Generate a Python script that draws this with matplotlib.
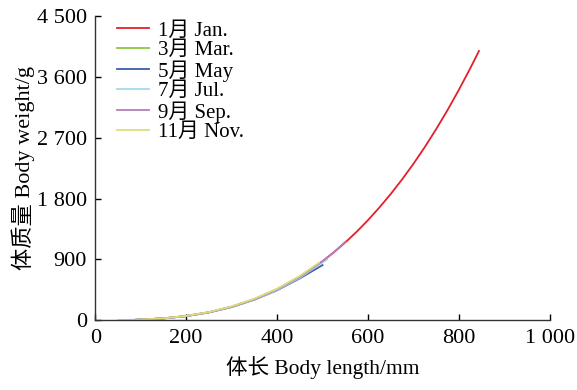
import matplotlib
matplotlib.use("Agg")
import matplotlib.pyplot as plt
from matplotlib.ticker import FuncFormatter

# values (body length mm, body weight g)
jan_len = [90, 150, 200, 250, 300, 350, 400, 425, 450, 475, 500, 525, 550, 575,
           600, 625, 650, 675, 700, 725, 750, 775, 800, 825, 844]
jan_wt = [6, 27, 61, 117, 198, 310, 457, 544, 643, 752, 872, 1005, 1150, 1308,
          1480, 1667, 1867, 2083, 2314, 2562, 2827, 3109, 3410, 3728, 3982]

mar_len = [90, 150, 200, 250, 300, 350, 400, 450, 485]
mar_wt = [6, 27, 62, 118, 199, 311, 456, 640, 800]

may_len = [85, 150, 200, 250, 300, 350, 400, 450, 500]
may_wt = [5, 26, 60, 115, 194, 302, 442, 618, 815]

jul_len = [50, 90, 150, 200, 250, 300, 350, 400, 450, 510]
jul_wt = [1, 6, 26, 60, 115, 195, 304, 447, 628, 900]

sep_len = [90, 150, 200, 250, 300, 350, 400, 450, 500, 525, 550]
sep_wt = [6, 27, 61, 117, 198, 310, 457, 643, 872, 1005, 1160]

nov_len = [90, 150, 200, 250, 300, 350, 400, 450, 492]
nov_wt = [6, 28, 63, 121, 204, 318, 466, 655, 850]

series = [
    ("1月 Jan.", jan_len, jan_wt, "#e3202a"),
    ("3月 Mar.", mar_len, mar_wt, "#8dc63f"),
    ("5月 May", may_len, may_wt, "#3a5fa8"),
    ("7月 Jul.", jul_len, jul_wt, "#a8d8ea"),
    ("9月 Sep.", sep_len, sep_wt, "#b77fb8"),
    ("11月 Nov.", nov_len, nov_wt, "#e0dc7a"),
]

x_ticks = [0, 200, 400, 600, 800, 1000]
y_ticks = [0, 900, 1800, 2700, 3600, 4500]

FONT = ["Liberation Serif", "Noto Sans CJK SC"]


def thousands(v, pos):
    return f"{int(v):,}".replace(",", " ")


def main():
    plt.rcParams["font.family"] = FONT
    fig = plt.figure(figsize=(5.77, 3.90), dpi=100)
    ax = fig.add_axes([0.165, 0.179, 0.788, 0.78])

    for label, xs, ys, color in series:
        ax.plot(xs, ys, color=color, lw=1.3, label=label)

    ax.set_xlim(0, 1000)
    ax.set_ylim(0, 4500)
    ax.set_xticks(x_ticks)
    ax.set_yticks(y_ticks)
    ax.xaxis.set_major_formatter(FuncFormatter(thousands))
    ax.yaxis.set_major_formatter(FuncFormatter(thousands))
    ax.tick_params(direction="in", length=4, width=1, labelsize=16,
                   colors="black", pad=6)
    for side in ("top", "right"):
        ax.spines[side].set_visible(False)
    for side in ("left", "bottom"):
        ax.spines[side].set_color("#333333")
        ax.spines[side].set_linewidth(1)

    ax.set_xlabel("体长 Body length/mm", fontsize=15.5, labelpad=6)
    ax.set_ylabel("体质量 Body weight/g", fontsize=16, labelpad=1)

    ax.legend(loc="upper left", bbox_to_anchor=(0.02, 1.025), frameon=False,
              fontsize=15, handlelength=1.55, labelspacing=0.0,
              borderaxespad=0.2, handletextpad=0.45)

    fig.savefig("out.png", dpi=100)


if __name__ == "__main__":
    main()
